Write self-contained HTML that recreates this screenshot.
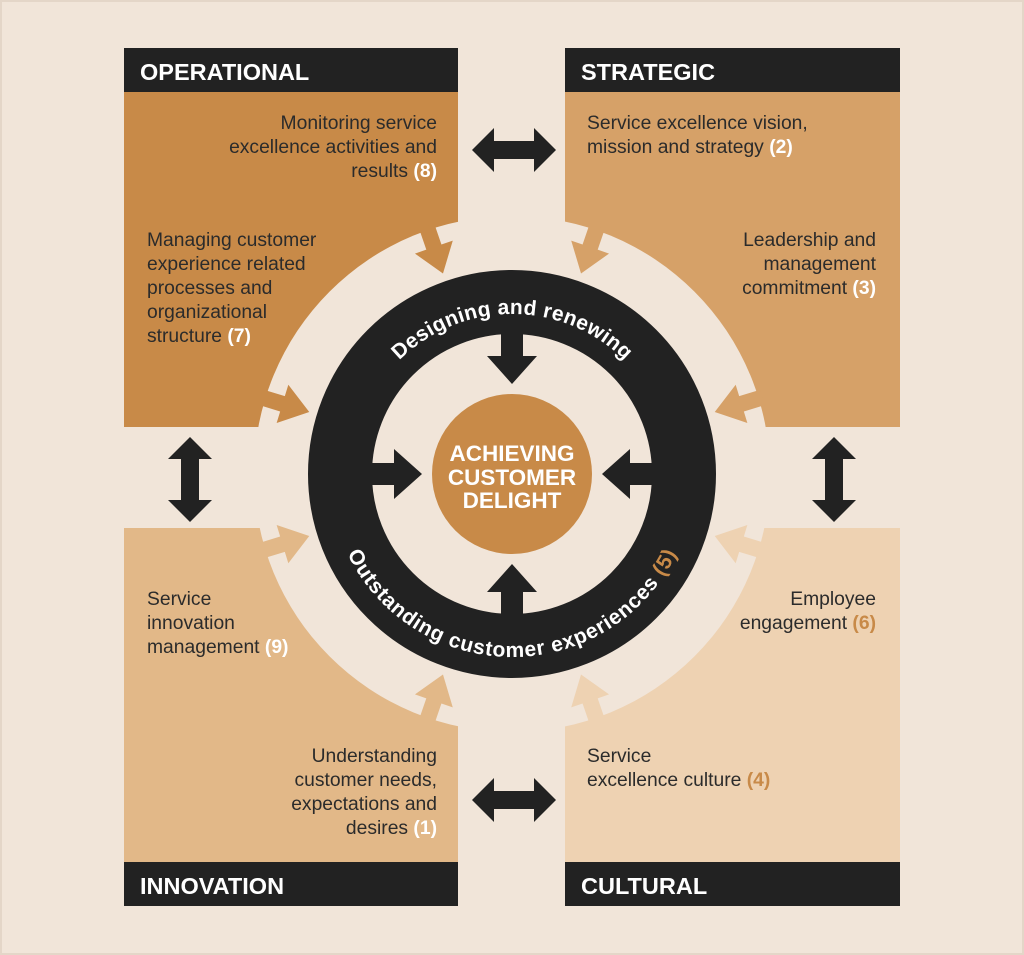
<!DOCTYPE html>
<html><head><meta charset="utf-8"><style>
html,body{margin:0;padding:0;background:#f1e5d9;}
svg{display:block}
text{font-family:"Liberation Sans",Arial,sans-serif;}
.t{font-size:19.3px;fill:#2b2b2b;}
.h{font-size:23.5px;font-weight:bold;fill:#fff;}
.n{font-weight:bold;fill:#fff;}
.o{font-weight:bold;fill:#c88a48;}
</style></head><body>
<svg width="1024" height="955" viewBox="0 0 1024 955" xmlns="http://www.w3.org/2000/svg">
<rect x="0" y="0" width="1024" height="955" fill="#f1e5d9"/>
<rect x="1" y="1" width="1022" height="953" fill="none" stroke="#e4d6c8" stroke-width="2"/>
<rect x="124" y="92" width="334" height="335" fill="#c88a48"/>
<rect x="565" y="92" width="335" height="335" fill="#d6a168"/>
<rect x="124" y="528" width="334" height="334" fill="#e2b888"/>
<rect x="565" y="528" width="335" height="334" fill="#eed2b2"/>
<rect x="124" y="48" width="334" height="44" fill="#222"/>
<rect x="565" y="48" width="335" height="44" fill="#222"/>
<rect x="124" y="862" width="334" height="44" fill="#222"/>
<rect x="565" y="862" width="335" height="44" fill="#222"/>
<text class="h" x="140" y="80">OPERATIONAL</text>
<text class="h" x="581" y="80">STRATEGIC</text>
<text class="h" x="140" y="894">INNOVATION</text>
<text class="h" x="581" y="894">CULTURAL</text>
<circle cx="512" cy="474" r="258" fill="#f1e5d9"/>
<g transform="translate(512,474)">
<g fill="#c88a48"><path transform="rotate(197)" d="M212,0 L240,-20 L240,-8 L262,-8 L262,8 L240,8 L240,20 Z"/><path transform="rotate(251)" d="M212,0 L240,20 L240,8 L262,8 L262,-8 L240,-8 L240,-20 Z"/></g>
<g fill="#d6a168"><path transform="rotate(289)" d="M212,0 L240,-20 L240,-8 L262,-8 L262,8 L240,8 L240,20 Z"/><path transform="rotate(343)" d="M212,0 L240,20 L240,8 L262,8 L262,-8 L240,-8 L240,-20 Z"/></g>
<g fill="#eed2b2"><path transform="rotate(17)" d="M212,0 L240,-20 L240,-8 L262,-8 L262,8 L240,8 L240,20 Z"/><path transform="rotate(71)" d="M212,0 L240,20 L240,8 L262,8 L262,-8 L240,-8 L240,-20 Z"/></g>
<g fill="#e2b888"><path transform="rotate(109)" d="M212,0 L240,-20 L240,-8 L262,-8 L262,8 L240,8 L240,20 Z"/><path transform="rotate(163)" d="M212,0 L240,20 L240,8 L262,8 L262,-8 L240,-8 L240,-20 Z"/></g>
</g>
<circle cx="512" cy="474" r="172" fill="none" stroke="#222" stroke-width="64"/>
<circle cx="512" cy="474" r="80" fill="#c88a48"/>
<g fill="#222" transform="translate(512,474)">
<path d="M-11,-145 L11,-145 L11,-118 L25,-118 L0,-90 L-25,-118 L-11,-118 Z"/>
<path transform="rotate(180)" d="M-11,-145 L11,-145 L11,-118 L25,-118 L0,-90 L-25,-118 L-11,-118 Z"/>
<path transform="rotate(90)" d="M-11,-145 L11,-145 L11,-118 L25,-118 L0,-90 L-25,-118 L-11,-118 Z"/>
<path transform="rotate(-90)" d="M-11,-145 L11,-145 L11,-118 L25,-118 L0,-90 L-25,-118 L-11,-118 Z"/>
</g>
<text x="512" y="461" text-anchor="middle" class="h" style="font-size:22.5px">ACHIEVING</text>
<text x="512" y="485" text-anchor="middle" class="h" style="font-size:22.5px">CUSTOMER</text>
<text x="512" y="508" text-anchor="middle" class="h" style="font-size:22.5px">DELIGHT</text>
<defs>
<path id="top" d="M352,474 A160,160 0 0 1 672,474"/>
<path id="bot" d="M329,474 A183,183 0 0 0 695,474"/>
</defs>
<text style="font-size:21px;font-weight:bold;fill:#fff"><textPath href="#top" startOffset="50%" text-anchor="middle" textLength="250" lengthAdjust="spacing">Designing and renewing</textPath></text>
<text style="font-size:21px;font-weight:bold;fill:#fff"><textPath href="#bot" startOffset="50%" text-anchor="middle" textLength="410" lengthAdjust="spacing">Outstanding customer experiences <tspan fill="#c88a48">(5)</tspan></textPath></text>
<g fill="#222">
<path d="M472,150 L494,128 L494,141 L534,141 L534,128 L556,150 L534,172 L534,159 L494,159 L494,172 Z"/>
<path d="M472,800 L494,778 L494,791 L534,791 L534,778 L556,800 L534,822 L534,809 L494,809 L494,822 Z"/>
<path d="M190,437 L212,459 L199,459 L199,500 L212,500 L190,522 L168,500 L181,500 L181,459 L168,459 Z"/>
<path d="M834,437 L856,459 L843,459 L843,500 L856,500 L834,522 L812,500 L825,500 L825,459 L812,459 Z"/>
</g>
<g class="t" text-anchor="end">
<text x="437" y="129">Monitoring service</text>
<text x="437" y="153">excellence activities and</text>
<text x="437" y="177">results <tspan class="n">(8)</tspan></text>
<text x="876" y="246">Leadership and</text>
<text x="876" y="270">management</text>
<text x="876" y="294">commitment <tspan class="n">(3)</tspan></text>
<text x="437" y="762">Understanding</text>
<text x="437" y="786">customer needs,</text>
<text x="437" y="810">expectations and</text>
<text x="437" y="834">desires <tspan class="n">(1)</tspan></text>
<text x="876" y="605">Employee</text>
<text x="876" y="629">engagement <tspan class="o">(6)</tspan></text>
</g>
<g class="t">
<text x="147" y="246">Managing customer</text>
<text x="147" y="270">experience related</text>
<text x="147" y="294">processes and</text>
<text x="147" y="318">organizational</text>
<text x="147" y="342">structure <tspan class="n">(7)</tspan></text>
<text x="587" y="129">Service excellence vision,</text>
<text x="587" y="153">mission and strategy <tspan class="n">(2)</tspan></text>
<text x="147" y="605">Service</text>
<text x="147" y="629">innovation</text>
<text x="147" y="653">management <tspan class="n">(9)</tspan></text>
<text x="587" y="762">Service</text>
<text x="587" y="786">excellence culture <tspan class="o">(4)</tspan></text>
</g>
</svg>
</body></html>
